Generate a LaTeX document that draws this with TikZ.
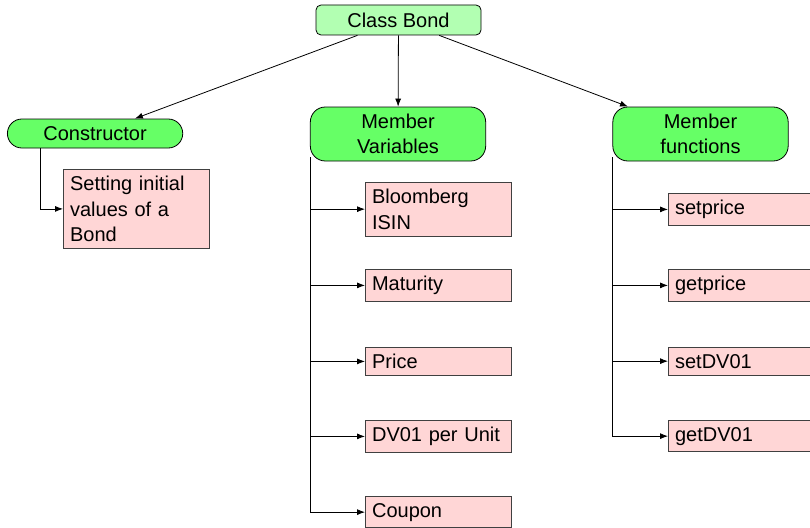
\documentclass[tikz,border=0pt]{standalone}
\usepackage{fontspec}
\setmainfont{Liberation Sans}
\usetikzlibrary{arrows.meta}
\begin{document}
\begin{tikzpicture}[x=1pt,y=-1pt,
  every node/.style={font=\fontsize{20}{25.5}\selectfont, inner sep=6.67pt},
  topbox/.style={draw=black, line width=0.8pt, fill=green!30, rounded corners=5pt,
    minimum width=165pt, minimum height=30pt},
  grbox/.style={draw=black, line width=0.8pt, fill=green!60, rounded corners=15pt,
    text width=162pt, align=center},
  pinkbox/.style={draw=black!75, line width=0.8pt, fill=red!16, text width=132.7pt,
    align=left, anchor=north west},
  arr/.style={-{Latex[length=8pt,width=6pt]}, line width=0.8pt}
]
\useasboundingbox (0,0) rectangle (810,527);
\clip (0,0) rectangle (810,527);

\node[topbox] (cb) at (398.5,20) {Class Bond};
\node[grbox, rounded corners=14.5pt, minimum height=29pt, anchor=west] (con) at (7,133.5) {Constructor};
\node[grbox, minimum height=54pt] (mv) at (398,134) {Member\\Variables};
\node[grbox, minimum height=54pt] (mf) at (700.5,134) {Member\\functions};

\draw[arr] (cb) -- (con);
\draw[arr] (cb) -- (mv);
\draw[arr] (cb) -- (mf);

\node[pinkbox] (set) at (63,169) {Setting initial values of a Bond};

\node[pinkbox] (v1) at (365,182) {Bloomberg ISIN};
\node[pinkbox] (v2) at (365,269) {Maturity};
\node[pinkbox] (v3) at (365,347) {Price};
\node[pinkbox] (v4) at (365,420) {DV01 per Unit};
\node[pinkbox] (v5) at (365,496) {Coupon};

\node[pinkbox] (f1) at (668,193) {setprice};
\node[pinkbox] (f2) at (668,269) {getprice};
\node[pinkbox] (f3) at (668,347) {setDV01};
\node[pinkbox] (f4) at (668,420) {getDV01};

\draw[arr] ([xshift=33pt]con.south west) |- (set.west);
\foreach \c in {v1,v2,v3,v4,v5} \draw[arr] ([yshift=4pt]mv.south west) |- (\c.west);
\foreach \c in {f1,f2,f3,f4} \draw[arr] ([yshift=4pt]mf.south west) |- (\c.west);
\end{tikzpicture}
\end{document}
